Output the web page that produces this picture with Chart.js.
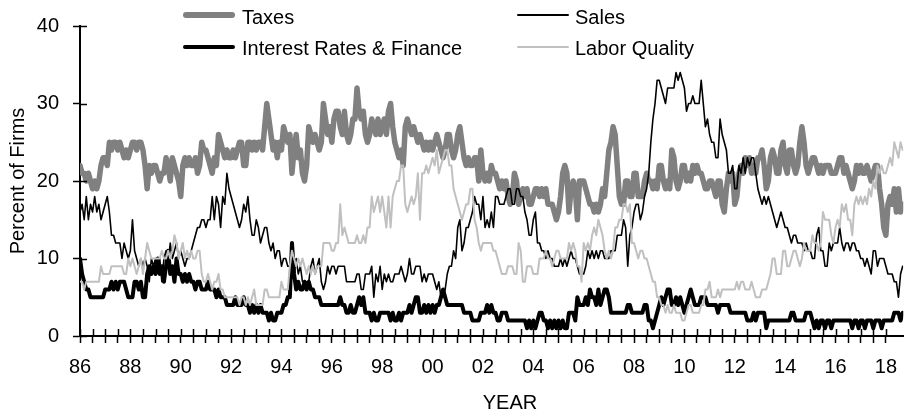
<!DOCTYPE html>
<html>
<head>
<meta charset="utf-8">
<title>Single most important problem</title>
<script src="https://cdn.jsdelivr.net/npm/chart.js@4/dist/chart.umd.min.js"></script>
<style>
  html, body { margin: 0; padding: 0; background: #fff; }
  #wrap { position: relative; width: 909px; height: 412px; overflow: hidden;
          font-family: "Liberation Sans", Arial, sans-serif; font-size: 20px; color: #000; }
  #wrap canvas { position: absolute; left: 0; top: 0; }
  .swatch { position: absolute; border-radius: 3px; }
  .label { position: absolute; line-height: 20px; white-space: nowrap; }
</style>
</head>
<body>
<div id="wrap">
  <canvas id="chart" width="909" height="412"></canvas>

  <div class="swatch" style="left:183px;top:12px;width:52px;height:5.5px;background:#808080"></div>
  <div class="label" style="left:242px;top:7px">Taxes</div>
  <div class="swatch" style="left:517px;top:14px;width:52px;height:1.7px;background:#000"></div>
  <div class="label" style="left:575px;top:7px">Sales</div>
  <div class="swatch" style="left:183px;top:45px;width:52px;height:4px;background:#000"></div>
  <div class="label" style="left:242px;top:38px">Interest Rates &amp; Finance</div>
  <div class="swatch" style="left:517px;top:46px;width:52px;height:2px;background:#c0c0c0"></div>
  <div class="label" style="left:575px;top:38px">Labor Quality</div>

  <div class="label" style="left:460px;top:392px;width:100px;text-align:center">YEAR</div>
</div>

<script>
// monthly readings, Jan 1986 .. Sep 2018, one row per year
const firstYear = 1986;

const taxes = [
  22,21,21,20,21,20,19,20,19,20,22,23,
  23,22,25,24,25,25,24,25,24,23,24,23,
  24,25,25,24,25,25,24,22,19,22,21,22,
  22,21,20,21,21,23,22,20,23,22,21,20,
  18,22,23,22,23,22,22,23,21,22,25,24,
  24,23,22,21,23,22,26,25,24,23,24,23,
  23,24,23,24,25,25,22,22,25,25,24,25,
  24,25,25,24,27,30,28,26,24,25,23,25,
  24,27,26,25,26,21,24,26,23,24,21,20,
  22,27,26,25,26,25,24,25,30,28,26,27,
  25,28,29,29,27,26,29,26,25,26,28,28,
  32,29,28,29,26,25,26,28,27,26,28,26,
  27,28,26,29,30,27,25,24,23,24,22,27,
  28,27,26,27,26,25,26,25,24,25,24,25,
  24,25,26,25,24,23,24,26,26,24,23,24,
  26,27,25,23,22,23,22,22,23,23,20,24,
  21,20,21,20,22,21,21,20,19,20,19,20,
  18,17,18,21,20,17,18,19,18,19,17,17,
  18,19,19,18,19,18,19,17,17,17,16,15,
  16,18,21,22,21,16,19,20,19,15,20,20,
  20,19,18,17,17,16,17,16,17,19,18,21,
  24,25,27,26,22,18,17,17,20,20,18,18,
  21,21,18,18,18,20,21,20,20,19,20,19,
  22,22,20,19,20,19,24,23,20,19,20,22,
  22,20,21,20,22,21,22,21,21,20,19,19,
  20,20,19,18,20,20,17,16,19,21,20,21,
  17,18,21,22,21,23,22,23,21,22,21,23,
  23,24,22,19,20,23,24,23,21,21,24,25,
  22,21,24,24,22,21,22,25,27,25,22,21,
  22,23,23,22,21,22,21,22,22,22,21,21,
  21,22,23,23,21,22,21,20,19,20,22,21,
  22,21,21,22,21,20,21,22,22,19,17,14,
  13,17,18,17,19,16,19,16,17
];

const sales = [
  16,17,15,18,15,17,16,18,16,17,15,16,
  17,18,16,13,13,12,12,12,10,12,11,10,
  11,15,11,10,9,10,9,10,9,7,10,9,
  10,9,10,7,10,11,9,12,10,11,12,10,
  11,10,9,10,10,11,12,13,14,14,15,15,
  14,15,15,18,15,18,17,14,18,17,21,19,
  18,17,16,15,14,15,17,16,18,15,13,13,
  15,14,12,13,14,14,12,11,12,10,11,11,
  9,10,10,9,9,12,8,10,8,9,7,7,
  7,7,9,10,8,9,10,7,6,7,9,8,
  9,9,8,9,9,9,9,7,7,7,7,7,
  8,8,6,6,8,8,8,9,5,8,7,9,
  6,8,7,8,7,7,8,8,8,9,8,7,
  8,10,8,8,9,9,9,7,8,7,8,8,
  8,7,6,7,5,5,6,8,9,9,11,10,
  14,15,11,12,14,14,15,16,18,17,17,15,
  18,14,15,14,16,14,18,18,17,17,17,18,
  19,19,17,17,19,19,18,18,16,15,13,13,
  15,16,12,12,11,11,10,11,10,10,9,9,
  9,10,9,10,9,10,11,10,10,9,8,8,
  8,9,11,10,11,10,11,10,11,11,10,10,
  10,11,11,11,13,13,13,15,14,9,13,14,
  16,17,17,15,16,18,19,21,25,28,30,33,
  33,32,31,30,32,32,32,32,34,33,34,33,
  32,29,30,30,31,30,30,30,33,30,27,28,
  26,25,25,23,23,28,26,25,24,21,21,22,
  19,19,22,21,23,21,23,22,23,23,21,19,
  18,17,18,17,18,17,16,15,14,15,16,15,
  14,14,13,12,13,13,12,12,12,11,12,11,
  11,10,10,13,14,11,11,9,9,12,11,12,
  12,12,14,12,11,12,12,11,12,12,11,11,
  10,10,9,10,9,8,11,11,9,10,10,10,
  9,8,8,8,7,7,5,8,9
];

const interestFinance = [
  10,8,7,6,6,5,5,5,5,5,5,5,
  6,6,6,7,6,7,6,7,7,7,6,5,
  5,5,7,7,6,7,5,5,8,9,8,9,
  8,10,8,9,7,9,11,8,9,7,10,8,
  8,7,8,7,8,7,7,6,7,7,6,6,
  6,7,6,6,6,5,6,5,5,5,4,4,
  4,4,5,4,4,4,5,4,4,3,4,3,
  4,3,4,3,3,3,2,3,2,2,3,3,
  3,4,4,5,5,12,8,6,7,6,6,7,
  6,7,6,6,5,5,5,4,4,4,4,4,
  4,4,4,4,5,4,4,3,3,4,3,3,
  4,5,4,5,3,3,3,2,3,2,2,3,
  3,3,3,3,2,3,2,2,3,2,3,3,
  3,4,3,4,5,5,3,3,4,3,4,3,
  4,3,4,4,5,6,5,4,4,4,4,4,
  4,4,4,3,3,3,3,2,2,2,2,3,
  3,3,4,3,4,3,3,2,2,3,3,3,
  2,2,2,2,2,2,2,2,2,1,2,1,
  2,1,2,3,3,2,2,1,2,1,2,1,
  2,1,2,1,1,3,3,3,2,5,4,4,
  4,5,4,6,5,5,4,6,4,5,6,6,
  5,3,3,3,3,3,3,3,3,4,4,3,
  3,3,3,3,3,4,4,2,2,1,2,3,
  4,5,4,5,6,6,4,4,5,4,5,4,
  3,4,5,6,5,4,4,4,5,5,5,4,
  4,4,4,4,3,4,4,4,4,4,3,3,
  3,3,3,3,3,3,2,2,2,3,2,3,
  3,3,3,1,2,2,2,2,2,2,2,2,
  2,2,2,3,3,2,2,2,2,2,3,3,
  3,2,1,2,1,2,2,1,2,2,1,2,
  2,2,2,2,2,2,2,2,1,2,2,1,
  2,2,1,2,2,2,1,2,2,2,1,2,
  2,2,2,2,3,3,3,2,3
];

const laborQuality = [
  7,7,6,7,7,7,7,7,7,7,9,8,
  8,8,8,9,9,9,9,9,9,8,8,10,
  9,10,9,8,9,10,8,10,12,11,10,10,
  10,10,10,11,10,10,11,10,11,13,12,10,
  11,12,10,11,10,11,10,10,11,11,8,7,
  7,8,7,6,7,7,8,6,6,5,5,5,
  5,5,5,5,4,5,5,4,5,4,5,6,
  4,4,4,4,6,6,5,5,5,5,5,5,
  7,6,6,6,9,11,10,9,10,9,10,9,
  8,9,8,9,8,9,9,9,12,12,12,12,
  11,11,12,12,17,13,14,13,12,12,12,12,
  13,12,12,13,12,14,14,18,16,17,18,16,
  18,16,14,18,14,18,19,20,20,22,22,17,
  16,17,18,17,18,21,15,21,21,22,21,22,
  23,22,24,21,22,23,24,24,22,22,19,18,
  17,16,15,16,17,17,19,19,15,14,12,11,
  12,12,12,12,12,11,11,10,9,8,8,8,
  9,9,9,8,8,12,11,7,7,9,9,9,
  8,8,8,10,10,10,11,10,10,9,10,11,
  11,10,10,10,10,12,11,12,11,9,9,7,
  12,11,12,11,13,14,13,15,14,13,11,10,
  11,10,11,14,14,15,15,17,17,16,17,12,
  12,11,10,11,11,10,10,9,8,7,7,5,
  5,4,4,3,4,3,3,4,3,3,3,2,
  2,3,4,4,3,3,3,3,4,4,6,6,
  7,5,5,5,6,5,6,6,6,6,6,6,
  6,7,6,7,7,6,6,6,7,6,5,5,
  5,6,6,6,7,8,10,10,8,8,8,11,
  11,9,9,10,11,11,10,9,10,12,11,11,
  11,13,12,12,11,12,16,15,15,15,13,12,
  14,15,14,17,16,17,15,15,13,17,18,17,
  18,17,18,17,19,18,20,19,22,21,22,21,
  21,22,23,22,25,24,23,25,24
];

const FONT = '"Liberation Sans", Arial, sans-serif';
Chart.defaults.font.family = FONT;
Chart.defaults.font.size = 20;
Chart.defaults.color = '#000';

// month i sits at firstYear + i/12 on the year axis
function toPoints(values) {
  return values.map((v, i) => ({ x: firstYear + i / 12, y: v }));
}

// tick marks in the reference cross the axis line, Chart.js only draws the outer half
const crossTicks = {
  id: 'crossTicks',
  afterDraw(chart) {
    const { ctx, scales: { x, y } } = chart;
    ctx.save();
    ctx.strokeStyle = '#000';
    ctx.lineWidth = 1.5;
    ctx.beginPath();
    x.ticks.forEach(t => {
      const px = Math.round(x.getPixelForValue(t.value)) + 0.5;
      ctx.moveTo(px, x.top);
      ctx.lineTo(px, x.top - 7);
    });
    y.ticks.forEach(t => {
      const py = Math.round(y.getPixelForValue(t.value)) + 0.5;
      ctx.moveTo(y.right, py);
      ctx.lineTo(y.right + 7, py);
    });
    ctx.stroke();
    ctx.restore();
  }
};

new Chart(document.getElementById('chart'), {
  type: 'line',
  data: {
    datasets: [
      { label: 'Taxes', data: toPoints(taxes), borderColor: '#808080', borderWidth: 5.5, order: 4 },
      { label: 'Sales', data: toPoints(sales), borderColor: '#000', borderWidth: 1.6, order: 3 },
      { label: 'Interest Rates & Finance', data: toPoints(interestFinance), borderColor: '#000', borderWidth: 4, order: 2 },
      { label: 'Labor Quality', data: toPoints(laborQuality), borderColor: '#c0c0c0', borderWidth: 2, order: 1 }
    ]
  },
  options: {
    responsive: false,
    animation: false,
    devicePixelRatio: 1,
    elements: {
      point: { radius: 0 },
      line: { tension: 0, fill: false, borderJoinStyle: 'round', borderCapStyle: 'round' }
    },
    layout: { padding: { top: 20, left: 0, right: 0, bottom: 0 } },
    plugins: {
      legend: { display: false },
      tooltip: { enabled: false }
    },
    scales: {
      x: {
        type: 'linear',
        min: 1986,
        max: 2018.69,
        border: { color: '#000', width: 2 },
        grid: { drawOnChartArea: false, tickLength: 7, tickWidth: 1.5, tickColor: '#000' },
        ticks: {
          stepSize: 0.5,
          autoSkip: false,
          maxRotation: 0,
          padding: 12,
          callback: v => (v % 2 === 0 ? String(v).slice(-2) : '')
        },
        afterBuildTicks: axis => {
          axis.ticks = axis.ticks.filter(t => Number.isInteger(t.value * 2));
        },
        afterFit: axis => { axis.height = 76; }
      },
      y: {
        min: 0,
        max: 40,
        border: { color: '#000', width: 2 },
        grid: { drawOnChartArea: false, tickLength: 7, tickWidth: 1.5, tickColor: '#000' },
        ticks: { stepSize: 10, padding: 14 },
        title: {
          display: true,
          text: 'Percent of Firms',
          padding: { top: 6, bottom: 0 }
        },
        afterFit: axis => { axis.width = 80; }
      }
    }
  },
  plugins: [crossTicks]
});
</script>
</body>
</html>
